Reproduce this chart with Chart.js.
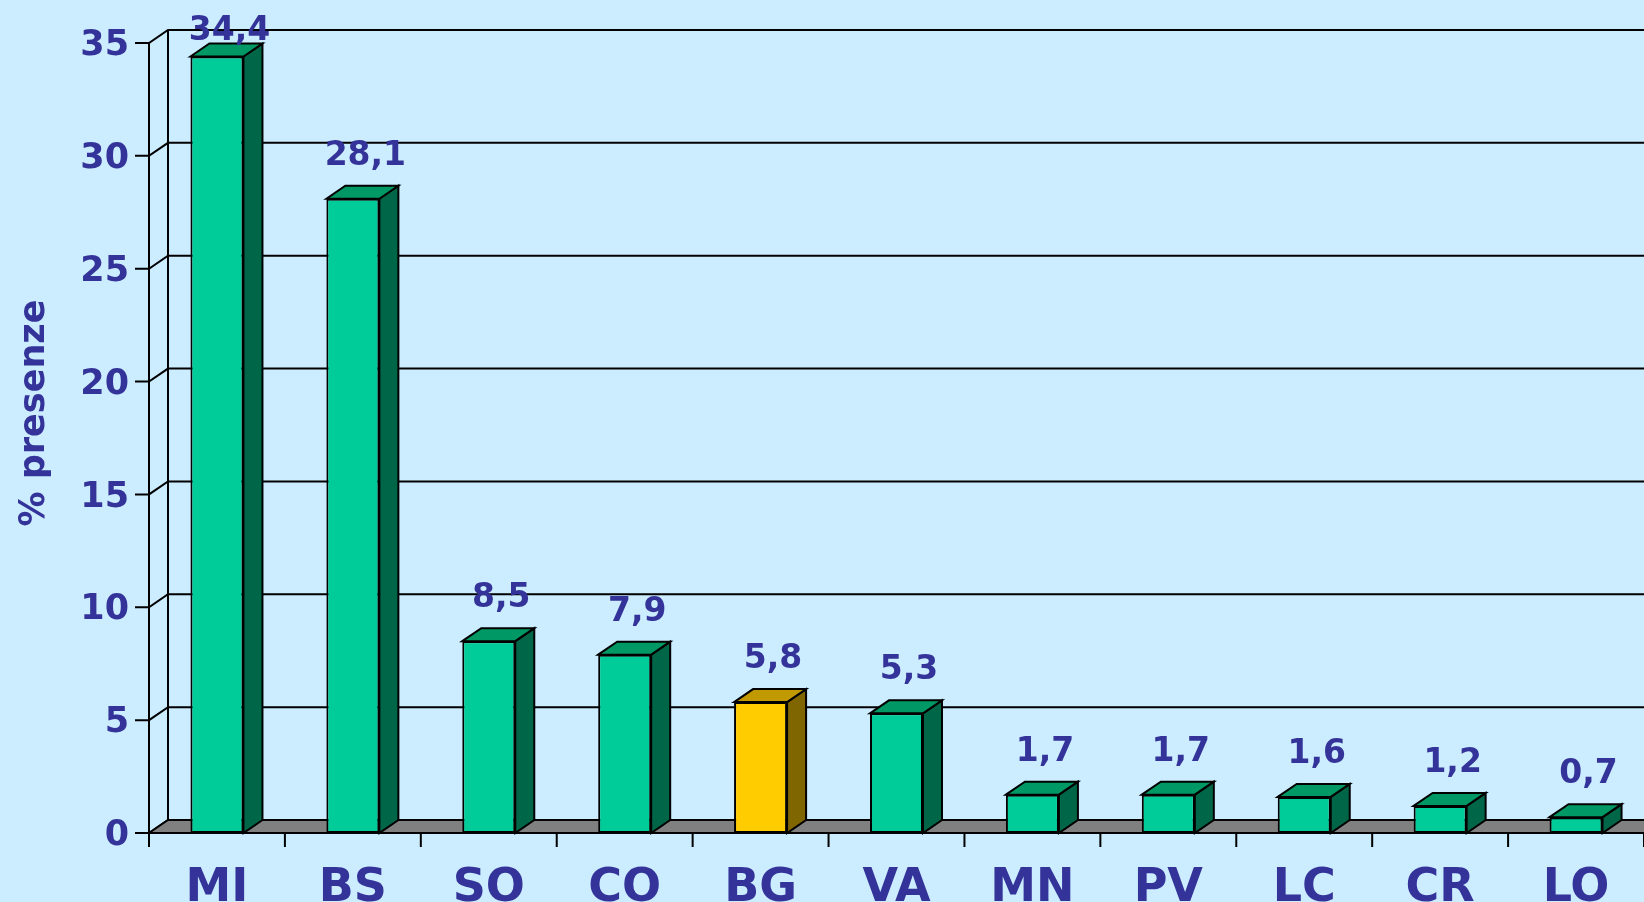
<!DOCTYPE html>
<html>
<head>
<meta charset="utf-8">
<script src="https://cdn.jsdelivr.net/npm/chart.js@4.4.1/dist/chart.umd.min.js"></script>
<style>
  html, body { margin: 0; padding: 0; background: #CCECFF; }
  #wrap { width: 1644px; height: 902px; position: relative; }
</style>
</head>
<body>
<div id="wrap"><canvas id="chart"></canvas></div>
<script>
// Data
const PROVINCES = ['MI', 'BS', 'SO', 'CO', 'BG', 'VA', 'MN', 'PV', 'LC', 'CR', 'LO'];
const PRESENZE  = [34.4, 28.1, 8.5, 7.9, 5.8, 5.3, 1.7, 1.7, 1.6, 1.2, 0.7];
const Y_TICKS   = [0, 5, 10, 15, 20, 25, 30, 35];
const HIGHLIGHT = 'BG';

// Styles
const TEXT = '#333399';
const FONT = 'DejaVu Sans';
const GREEN  = { front: '#00CC99', top: '#009966', side: '#006648' };
const YELLOW = { front: '#FFCC00', top: '#C09A00', side: '#806600' };
const DX = 19, DY = -13;       // depth of the 3D effect
const TICK = 14;

const palette = PROVINCES.map(p => p === HIGHLIGHT ? YELLOW : GREEN);
const fmt = v => v.toFixed(1).replace('.', ',');

function poly(ctx, pts, fill) {
  ctx.beginPath();
  ctx.moveTo(pts[0][0], pts[0][1]);
  for (let i = 1; i < pts.length; i++) ctx.lineTo(pts[i][0], pts[i][1]);
  ctx.closePath();
  if (fill) { ctx.fillStyle = fill; ctx.fill(); }
  ctx.stroke();
}

// back wall, grid, floor and axis ticks
const frame3d = {
  id: 'frame3d',
  beforeDatasetsDraw(chart) {
    const { ctx, chartArea: a, scales: { x, y } } = chart;
    const y0 = y.getPixelForValue(0);
    ctx.save();
    ctx.strokeStyle = '#000';
    ctx.lineWidth = 2;

    Y_TICKS.forEach(v => {
      const py = y.getPixelForValue(v);
      ctx.beginPath();
      ctx.moveTo(a.left - TICK, py);
      ctx.lineTo(a.left, py);
      ctx.lineTo(a.left + DX, py + DY);
      ctx.lineTo(a.right, py + DY);
      ctx.stroke();

      ctx.fillStyle = TEXT;
      ctx.font = `bold 35px "${FONT}"`;
      ctx.textAlign = 'right';
      ctx.textBaseline = 'middle';
      ctx.fillText(String(v), a.left - TICK - 6, py + 3);
    });

    // back wall edge
    ctx.beginPath();
    ctx.moveTo(a.left + DX, y.getPixelForValue(35) + DY);
    ctx.lineTo(a.left + DX, y0 + DY);
    ctx.stroke();

    // floor
    poly(ctx, [[a.left, y0], [a.left + DX, y0 + DY], [a.right + DX, y0 + DY], [a.right + DX, y0]], '#808080');
    ctx.beginPath();
    ctx.moveTo(a.left, y0);
    ctx.lineTo(a.right, y0);
    ctx.stroke();

    // front value axis
    ctx.beginPath();
    ctx.moveTo(a.left, y.getPixelForValue(35));
    ctx.lineTo(a.left, y0 + TICK);
    ctx.stroke();

    // category ticks at boundaries
    const step = (a.right - a.left) / PROVINCES.length;
    for (let i = 0; i <= PROVINCES.length; i++) {
      const px = x.getPixelForValue(0) - step / 2 + i * step;
      ctx.beginPath();
      ctx.moveTo(px, y0);
      ctx.lineTo(px, y0 + TICK);
      ctx.stroke();
    }
    ctx.restore();
  },
  afterDatasetsDraw(chart) {
    const { ctx, chartArea: a } = chart;
    const meta = chart.getDatasetMeta(0);
    ctx.save();
    ctx.strokeStyle = '#000';
    ctx.lineWidth = 2;
    meta.data.forEach((bar, i) => {
      const { x: bx, y: by, base, width } = bar.getProps(['x', 'y', 'base', 'width'], true);
      const l = bx - width / 2, r = bx + width / 2;
      const c = palette[i];
      poly(ctx, [[r, by], [r + DX, by + DY], [r + DX, base + DY], [r, base]], c.side);
      poly(ctx, [[l, by], [l + DX, by + DY], [r + DX, by + DY], [r, by]], c.top);

      ctx.fillStyle = TEXT;
      ctx.font = `bold 33px "${FONT}"`;
      ctx.textAlign = 'center';
      ctx.textBaseline = 'alphabetic';
      const ly = Math.max(by + DY - 21, a.top - 3);
      ctx.fillText(fmt(PRESENZE[i]), bx + DX / 2 + 3, ly);
    });

    // axis title
    ctx.translate(35, (a.top + a.bottom) / 2 - 25);
    ctx.rotate(-Math.PI / 2);
    ctx.font = `bold 35px "${FONT}"`;
    ctx.textAlign = 'center';
    ctx.textBaseline = 'middle';
    ctx.fillStyle = TEXT;
    ctx.fillText('% presenze', 0, 0);
    ctx.restore();
  }
};

new Chart(document.getElementById('chart'), {
  type: 'bar',
  data: {
    labels: PROVINCES,
    datasets: [{
      data: PRESENZE,
      backgroundColor: palette.map(c => c.front),
      borderColor: '#000',
      borderWidth: 2,
      borderSkipped: false,
      barPercentage: 0.39,
      categoryPercentage: 1,
    }],
  },
  options: {
    responsive: true,
    maintainAspectRatio: false,
    animation: false,
    layout: { padding: { top: 43, left: 0, right: 0, bottom: 0 } },
    plugins: { legend: { display: false }, tooltip: { enabled: false } },
    scales: {
      x: {
        grid: { display: false, drawTicks: false },
        border: { display: false },
        ticks: { color: TEXT, font: { family: FONT, size: 46, weight: 'bold' }, padding: 28, maxRotation: 0, autoSkip: false },
        afterFit: s => { s.height = 69; },
      },
      y: {
        min: 0, max: 35,
        grid: { display: false, drawTicks: false },
        border: { display: false },
        ticks: { display: false, stepSize: 5 },
        afterFit: s => { s.width = 149; },
      },
    },
  },
  plugins: [frame3d],
});
</script>
</body>
</html>
